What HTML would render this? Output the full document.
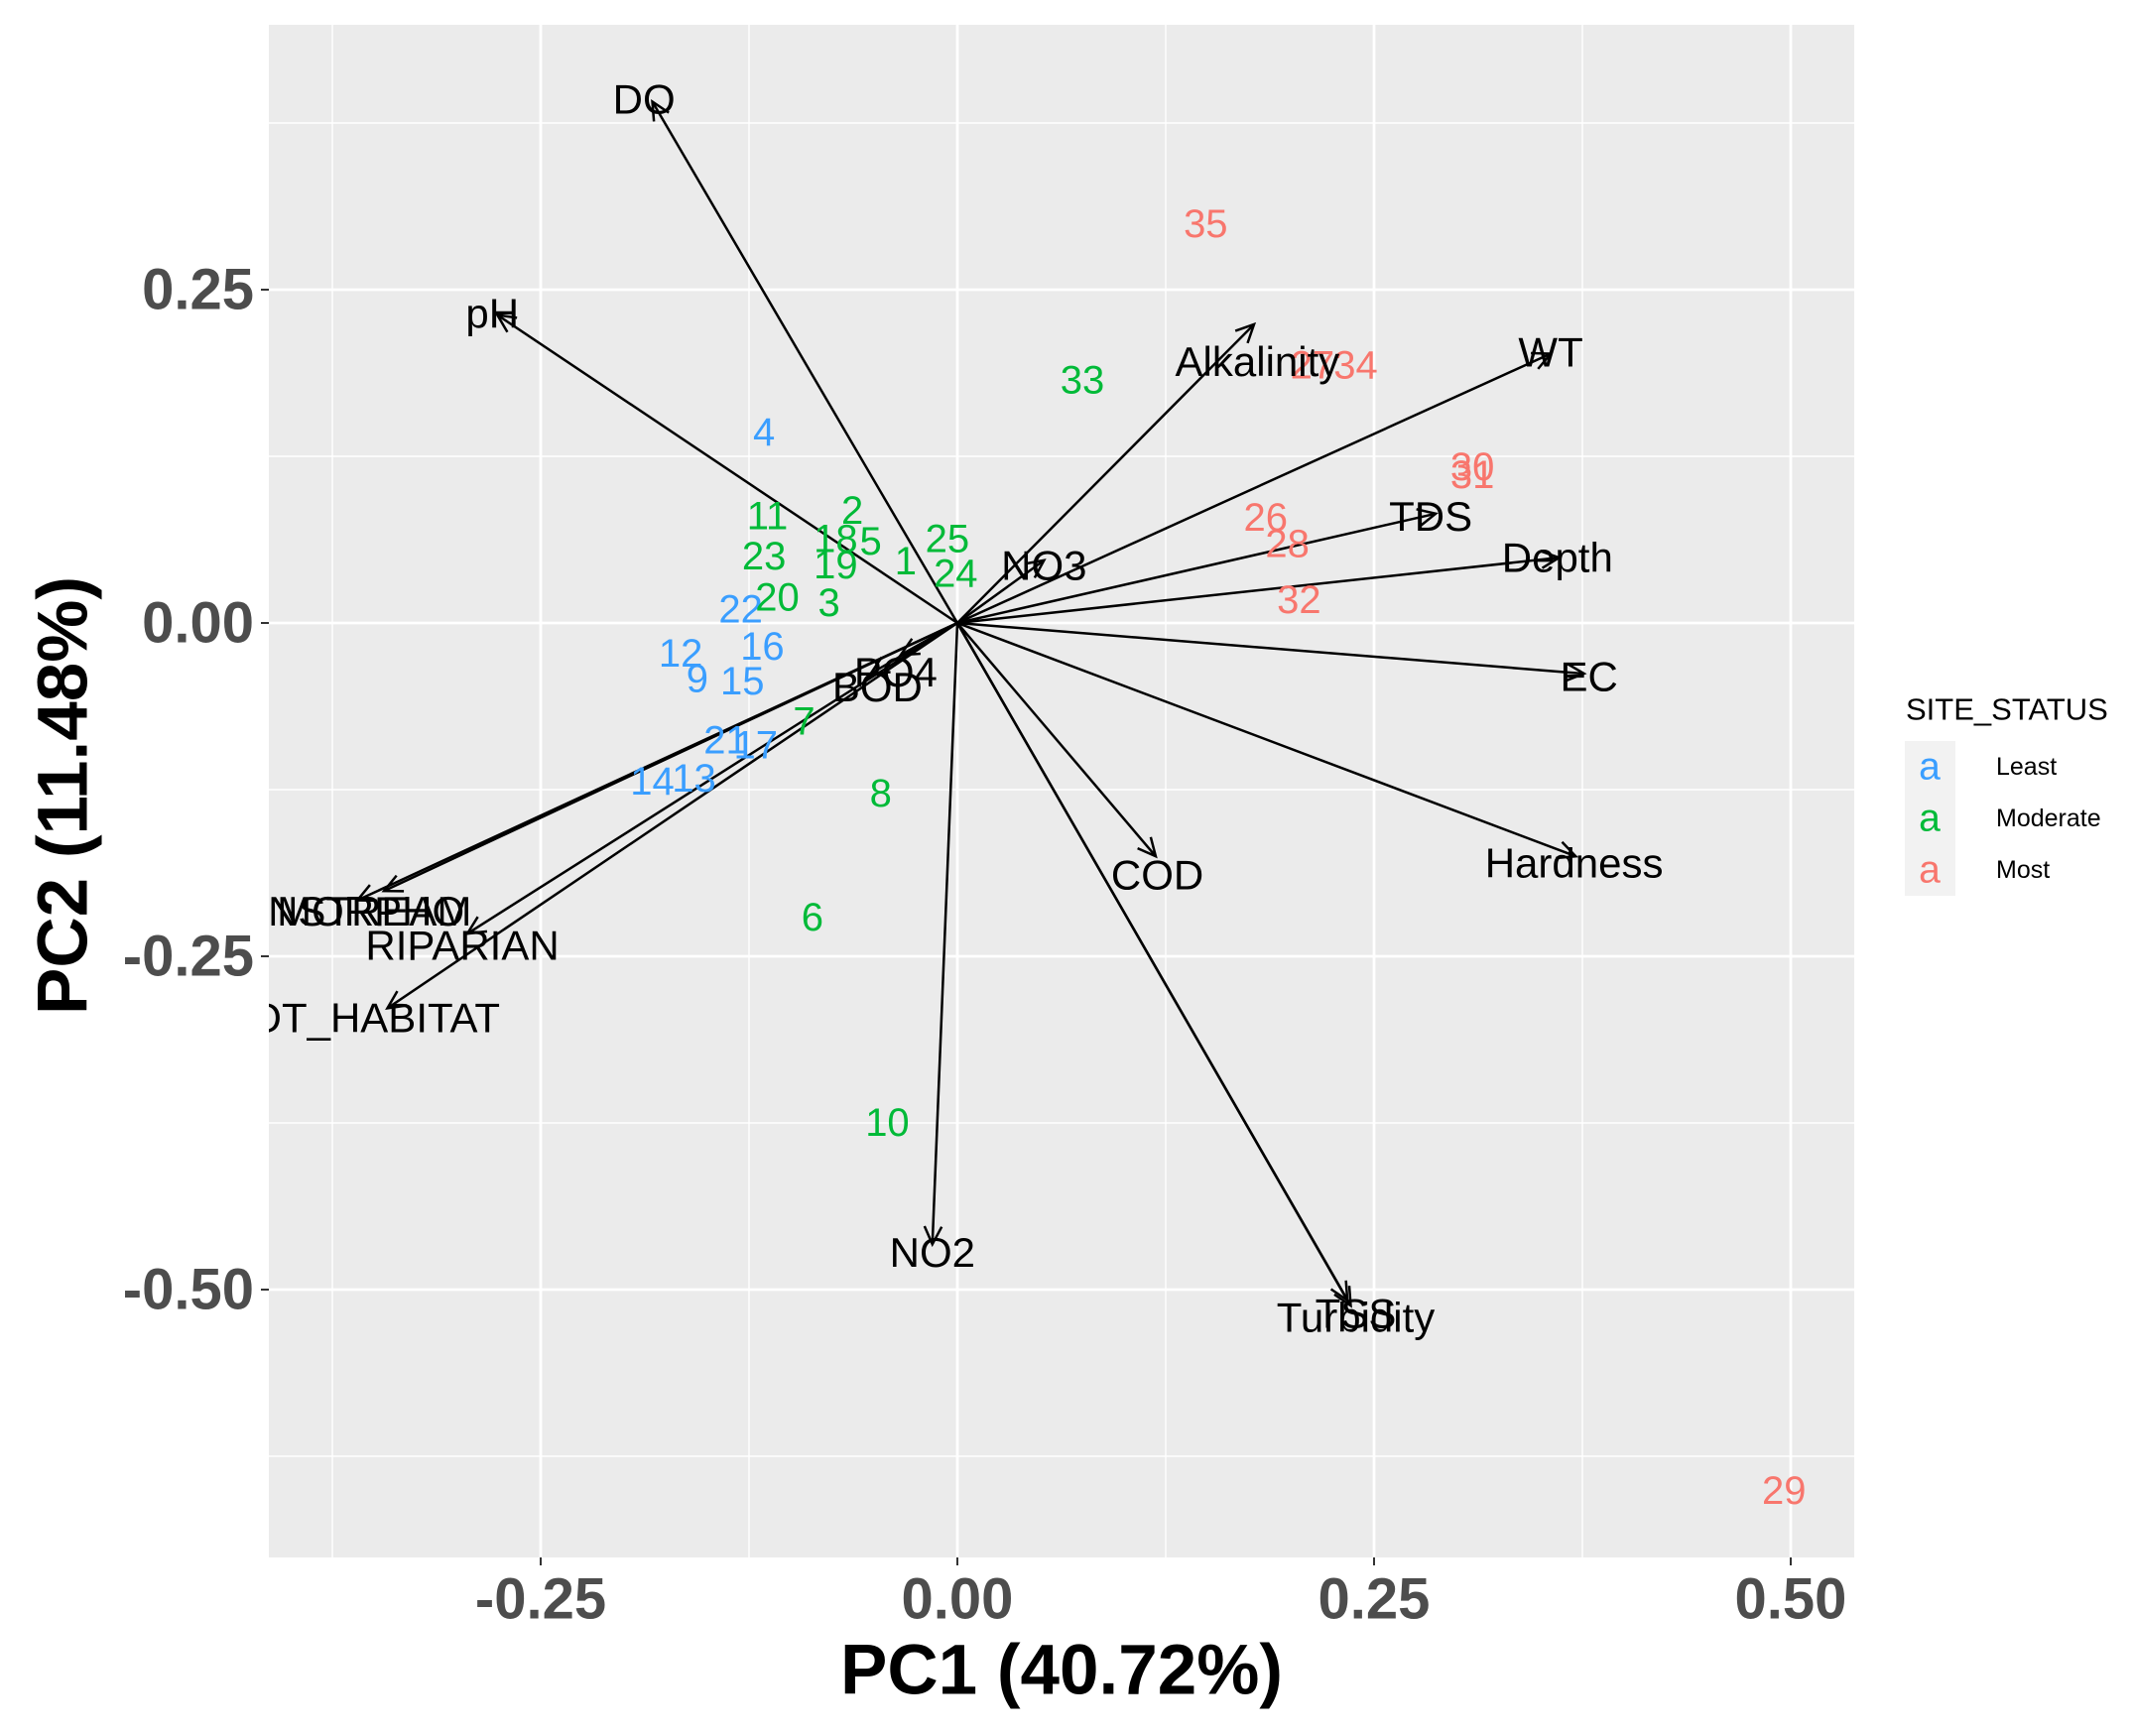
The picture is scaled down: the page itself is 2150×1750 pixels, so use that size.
<!DOCTYPE html>
<html><head><meta charset="utf-8"><style>
html,body{margin:0;padding:0;background:#fff;}
svg{display:block;font-family:"Liberation Sans",Arial,sans-serif;}
</style></head><body>
<svg id="chart" width="2150" height="1750" viewBox="0 0 2150 1750" xmlns="http://www.w3.org/2000/svg">
<defs><clipPath id="pclip"><rect x="271" y="25" width="1598" height="1545"/></clipPath></defs>
<rect x="271" y="25" width="1598" height="1545" fill="#EBEBEB"/>
<g id="grid"></g>
<g id="arrows" clip-path="url(#pclip)"></g>
<g id="points" clip-path="url(#pclip)"></g>
<g id="vlabels" clip-path="url(#pclip)"></g>
<g id="axes"></g>
<text x="1070" y="1684" text-anchor="middle" dominant-baseline="central" font-size="71" font-weight="bold" fill="#000">PC1 (40.72%)</text>
<text transform="translate(64,802) rotate(-90)" text-anchor="middle" dominant-baseline="central" font-size="71" font-weight="bold" fill="#000">PC2 (11.48%)</text>
<g>
<text x="1921" y="715" dominant-baseline="central" font-size="31" fill="#000">SITE_STATUS</text>
<rect x="1920" y="747" width="51" height="52" fill="#F2F2F2"/>
<rect x="1920" y="799" width="51" height="52" fill="#F2F2F2"/>
<rect x="1920" y="851" width="51" height="52" fill="#F2F2F2"/>
<text x="1945" y="773" text-anchor="middle" dominant-baseline="central" font-size="39" fill="#3A9EFF">a</text>
<text x="1945" y="825" text-anchor="middle" dominant-baseline="central" font-size="39" fill="#00BA38">a</text>
<text x="1945" y="877" text-anchor="middle" dominant-baseline="central" font-size="39" fill="#F8766D">a</text>
<text x="2012" y="773" dominant-baseline="central" font-size="25" fill="#000">Least</text>
<text x="2012" y="825" dominant-baseline="central" font-size="25" fill="#000">Moderate</text>
<text x="2012" y="877" dominant-baseline="central" font-size="25" fill="#000">Most</text>
</g>
</svg>
<script>
const xTicks = [-0.25, 0, 0.25, 0.5];
const xTickLabels = ["-0.25", "0.00", "0.25", "0.50"];
const xMinor = [-0.375, -0.125, 0.125, 0.375];
const yTicks = [-0.5, -0.25, 0, 0.25];
const yTickLabels = ["-0.50", "-0.25", "0.00", "0.25"];
const yMinor = [-0.625, -0.375, -0.125, 0.125, 0.375];

const varNames = ["DO","pH","Alkalinity","WT","NO3","TDS","Depth","EC","Hardness","COD","Turbidity","TSS","NO2","BOD","PO4","INSTREAM","MORPHO","RIPARIAN","TOT_HABITAT"];
const varX = [-0.183,-0.276,0.178,0.356,0.052,0.287,0.361,0.376,0.371,0.119,0.236,0.234,-0.015,-0.052,-0.034,-0.344,-0.360,-0.294,-0.342];
const varY = [0.391,0.231,0.224,0.202,0.047,0.082,0.049,-0.038,-0.175,-0.175,-0.512,-0.508,-0.466,-0.038,-0.024,-0.201,-0.208,-0.233,-0.289];
const labX = [-0.188,-0.279,0.180,0.356,0.052,0.284,0.360,0.379,0.370,0.120,0.239,0.239,-0.015,-0.048,-0.037,-0.356,-0.352,-0.297,-0.357];
const labY = [0.393,0.232,0.196,0.203,0.043,0.080,0.049,-0.040,-0.180,-0.189,-0.521,-0.518,-0.472,-0.048,-0.037,-0.216,-0.216,-0.242,-0.296];

const siteIds = ["4","22","16","12","9","15","21","17","14","13","11","2","18","5","25","1","24","23","19","20","3","7","8","6","10","33","35","27","34","30","31","26","28","32","29"];
const siteStatus = ["Least","Least","Least","Least","Least","Least","Least","Least","Least","Least","Moderate","Moderate","Moderate","Moderate","Moderate","Moderate","Moderate","Moderate","Moderate","Moderate","Moderate","Moderate","Moderate","Moderate","Moderate","Moderate","Most","Most","Most","Most","Most","Most","Most","Most","Most"];
const siteX = [-0.116,-0.130,-0.117,-0.166,-0.156,-0.129,-0.139,-0.121,-0.183,-0.158,-0.114,-0.063,-0.073,-0.052,-0.006,-0.031,-0.001,-0.116,-0.073,-0.108,-0.077,-0.092,-0.046,-0.087,-0.042,0.075,0.149,0.213,0.239,0.309,0.309,0.185,0.198,0.205,0.496];
const siteY = [0.143,0.010,-0.018,-0.023,-0.042,-0.044,-0.088,-0.092,-0.119,-0.117,0.080,0.084,0.063,0.061,0.063,0.046,0.037,0.050,0.043,0.019,0.015,-0.074,-0.128,-0.221,-0.375,0.182,0.299,0.193,0.193,0.117,0.111,0.079,0.059,0.017,-0.651];

const colors = {Least:"#3A9EFF", Moderate:"#00BA38", Most:"#F8766D"};
const NS = "http://www.w3.org/2000/svg";
const L = 271, R = 1869, T = 25, B = 1570;
function sx(v){ return 965 + v * 1680; }
function sy(v){ return 628 - v * 1344; }
function mk(tag, attrs, parent){ const e = document.createElementNS(NS, tag); for (const k in attrs) e.setAttribute(k, attrs[k]); parent.appendChild(e); return e; }

const grid = document.getElementById('grid');
xMinor.forEach(v => { const e = mk('line', {x1:sx(v), x2:sx(v), y1:T, y2:B, stroke:'#fff', 'stroke-width':1.4}, grid);
  
   });
yMinor.forEach(v => { const e = mk('line', {x1:L, x2:R, y1:sy(v), y2:sy(v), stroke:'#fff', 'stroke-width':1.4}, grid);
  
   });
xTicks.forEach(v => { const e = mk('line', {x1:sx(v), x2:sx(v), y1:T, y2:B, stroke:'#fff', 'stroke-width':2.8}, grid);
  
   });
yTicks.forEach(v => { const e = mk('line', {x1:L, x2:R, y1:sy(v), y2:sy(v), stroke:'#fff', 'stroke-width':2.8}, grid);
  
   });

const axes = document.getElementById('axes');
xTicks.forEach((v, i) => {
  const t = mk('line', {x1:sx(v), x2:sx(v), y1:B, y2:B+8, stroke:'#333', 'stroke-width':2}, axes);
  
  
  const e = mk('text', {x:sx(v), y:1612, 'text-anchor':'middle', 'dominant-baseline':'central', 'font-size':58, 'font-weight':'bold', fill:'#4D4D4D'}, axes);
  e.textContent = xTickLabels[i];
  
  
});
yTicks.forEach((v, i) => {
  const t = mk('line', {x1:L-8, x2:L, y1:sy(v), y2:sy(v), stroke:'#333', 'stroke-width':2}, axes);
  
  
  const e = mk('text', {x:256, y:sy(v), 'text-anchor':'end', 'dominant-baseline':'central', 'font-size':58, 'font-weight':'bold', fill:'#4D4D4D'}, axes);
  e.textContent = yTickLabels[i];
  
  
});

const arrows = document.getElementById('arrows');
varNames.forEach((n, i) => {
  const x0 = sx(0), y0 = sy(0), x1 = sx(varX[i]), y1 = sy(varY[i]);
  const a = Math.atan2(y1 - y0, x1 - x0), h = 20, w = 0.45;
  const g = mk('g', {}, arrows);
  
  
  mk('line', {x1:x0, y1:y0, x2:x1, y2:y1, stroke:'#000', 'stroke-width':2.5}, g);
  const p = `M${x1 - h*Math.cos(a-w)},${y1 - h*Math.sin(a-w)} L${x1},${y1} L${x1 - h*Math.cos(a+w)},${y1 - h*Math.sin(a+w)}`;
  mk('path', {d:p, fill:'none', stroke:'#000', 'stroke-width':2.5}, g);
});

const pts = document.getElementById('points');
siteIds.forEach((id, i) => {
  const e = mk('text', {x:sx(siteX[i]), y:sy(siteY[i]), 'text-anchor':'middle', 'dominant-baseline':'central', 'font-size':40, fill:colors[siteStatus[i]]}, pts);
  e.textContent = id;
  
  
});

const vl = document.getElementById('vlabels');
varNames.forEach((n, i) => {
  const e = mk('text', {x:sx(labX[i]), y:sy(labY[i]), 'text-anchor':'middle', 'dominant-baseline':'central', 'font-size':42, fill:'#000'}, vl);
  e.textContent = n;
  
  
});
</script>
</body></html>
